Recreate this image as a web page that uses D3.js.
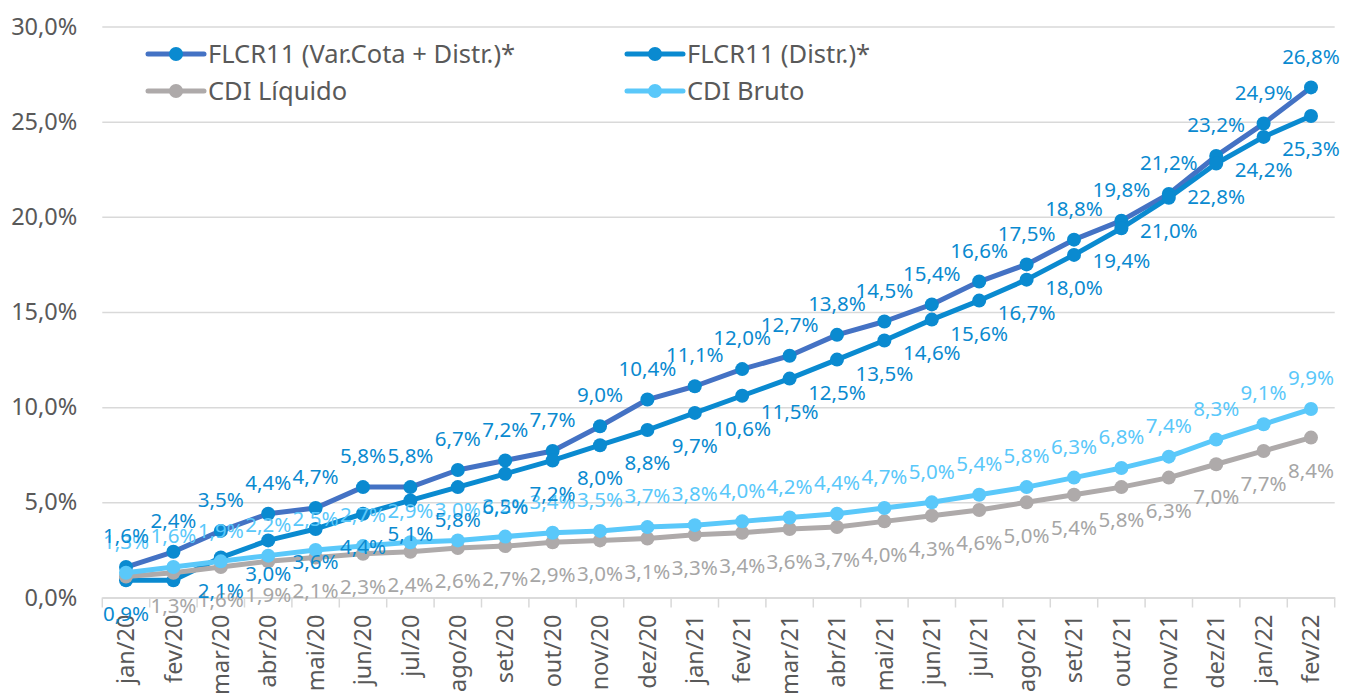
<!DOCTYPE html>
<html>
<head>
<meta charset="utf-8">
<script src="https://cdn.jsdelivr.net/npm/d3@7/dist/d3.min.js"></script>
<style>
  body { margin: 0; background: #fff; }
  svg { display: block; font-family: "Noto Sans", "Open Sans", sans-serif; }
</style>
</head>
<body>
<svg id="chart"></svg>
<script>
// categorias (eixo x)
const months = ["jan/20","fev/20","mar/20","abr/20","mai/20","jun/20","jul/20","ago/20","set/20","out/20","nov/20","dez/20",
                "jan/21","fev/21","mar/21","abr/21","mai/21","jun/21","jul/21","ago/21","set/21","out/21","nov/21","dez/21",
                "jan/22","fev/22"];
// valores acumulados em %
const flcrTotal  = [1.6,2.4,3.5,4.4,4.7,5.8,5.8,6.7,7.2,7.7,9.0,10.4,11.1,12.0,12.7,13.8,14.5,15.4,16.6,17.5,18.8,19.8,21.2,23.2,24.9,26.8];
const flcrDistr  = [0.9,0.9,2.1,3.0,3.6,4.4,5.1,5.8,6.5,7.2,8.0,8.8,9.7,10.6,11.5,12.5,13.5,14.6,15.6,16.7,18.0,19.4,21.0,22.8,24.2,25.3];
const cdiLiquido = [1.1,1.3,1.6,1.9,2.1,2.3,2.4,2.6,2.7,2.9,3.0,3.1,3.3,3.4,3.6,3.7,4.0,4.3,4.6,5.0,5.4,5.8,6.3,7.0,7.7,8.4];
const cdiBruto   = [1.3,1.6,1.9,2.2,2.5,2.7,2.9,3.0,3.2,3.4,3.5,3.7,3.8,4.0,4.2,4.4,4.7,5.0,5.4,5.8,6.3,6.8,7.4,8.3,9.1,9.9];
const seriesNames = ["FLCR11 (Var.Cota + Distr.)*", "FLCR11 (Distr.)*", "CDI Líquido", "CDI Bruto"];
const yTicks = [0, 5, 10, 15, 20, 25, 30];
// rótulos que não aparecem no original
const hiddenDistr = [1];
const hiddenLiquido = [0];

let chart = {
    width: 1345,
    height: 697,
    left: 102.3,
    right: 1334.7,
    top: 26.5,
    bottom: 597.5,
    xScale: null,
    yScale: null,
    fmt: v => d3.format(".1f")(v).replace(".", ",") + "%",
    cx: i => chart.xScale(months[i]) + chart.xScale.bandwidth() / 2,

    drawAxis: (svg) => {
        chart.xScale = d3.scaleBand()
            .domain(months)
            .range([chart.left, chart.right]);
        chart.yScale = d3.scaleLinear()
            .domain([0, 30])
            .range([chart.bottom, chart.top]);

        // grade + rótulos do eixo y
        let axis_y = d3.axisLeft(chart.yScale)
            .tickValues(yTicks)
            .tickSize(-(chart.right - chart.left))
            .tickPadding(25)
            .tickFormat(d => chart.fmt(d));
        let gy = svg.append('g')
            .attr('transform', `translate(${chart.left}, 0)`)
            .call(axis_y);
        gy.select('.domain').remove();
        gy.selectAll('line').attr('stroke', '#d9d9d9').attr('stroke-width', 1.5);
        gy.selectAll('text')
            .attr('fill', '#595959')
            .attr('font-size', '23.5px')
            .attr('font-family', '"Noto Sans", sans-serif');

        // eixo x
        let axis_x = d3.axisBottom(chart.xScale).tickSize(0);
        let gx = svg.append('g')
            .attr('transform', `translate(0, ${chart.bottom})`)
            .call(axis_x);
        gx.select('.domain').attr('stroke', '#d9d9d9').attr('stroke-width', 1.5);
        gx.selectAll('text')
            .attr('transform', 'rotate(-90)')
            .attr('x', -17)
            .attr('y', 0)
            .attr('dy', '0.35em')
            .attr('text-anchor', 'end')
            .attr('fill', '#595959')
            .attr('font-size', '23.5px')
            .attr('font-family', '"Noto Sans", sans-serif');

        // marcas entre categorias
        let edges = months.map(m => chart.xScale(m)).concat([chart.right]);
        svg.append('g')
            .selectAll('line')
            .data(edges)
            .join('line')
            .attr('x1', d => d).attr('x2', d => d)
            .attr('y1', chart.bottom).attr('y2', chart.bottom + 10)
            .attr('stroke', '#d9d9d9')
            .attr('stroke-width', 1.5);
    },

    drawSeries: (svg, values, lineColor, dotColor) => {
        let line = d3.line()
            .x((d, i) => chart.cx(i))
            .y(d => chart.yScale(d));
        let g = svg.append('g');
        g.append('path')
            .datum(values)
            .attr('d', line)
            .attr('fill', 'none')
            .attr('stroke', lineColor)
            .attr('stroke-width', 5)
            .attr('stroke-linejoin', 'round');
        g.selectAll('circle')
            .data(values)
            .join('circle')
            .attr('cx', (d, i) => chart.cx(i))
            .attr('cy', d => chart.yScale(d))
            .attr('r', 7)
            .attr('fill', dotColor);
    },

    drawLabels: (svg, values, color, offset, hidden) => {
        let pts = values.map((v, i) => ({v: v, i: i})).filter(d => !hidden.includes(d.i));
        svg.append('g')
            .selectAll('text')
            .data(pts)
            .join('text')
            .attr('x', d => chart.cx(d.i))
            .attr('y', d => chart.yScale(d.v) + offset)
            .attr('dy', '0.35em')
            .attr('text-anchor', 'middle')
            .attr('font-size', '20.5px')
            .attr('fill', color)
            .text(d => chart.fmt(d.v));
    },

    drawLegend: (svg, items) => {
        let g = svg.append('g');
        items.forEach(it => {
            let e = g.append('g').attr('transform', `translate(${it.x}, ${it.y})`);
            e.append('line')
                .attr('x1', 0).attr('x2', 56)
                .attr('stroke', it.line)
                .attr('stroke-width', 5)
                .attr('stroke-linecap', 'round');
            e.append('circle')
                .attr('cx', 28).attr('r', 7)
                .attr('fill', it.dot);
            e.append('text')
                .attr('x', 60)
                .attr('dy', '0.35em')
                .attr('font-size', '25.5px')
                .attr('fill', '#595959')
                .text(it.name);
        });
    },

    drawMain: () => {
        let svg = d3.select('#chart')
            .attr('width', chart.width)
            .attr('height', chart.height);
        chart.drawAxis(svg);

        chart.drawSeries(svg, flcrTotal, '#4472c4', '#0a8ad0');
        chart.drawSeries(svg, flcrDistr, '#0a8ad0', '#0a8ad0');
        chart.drawSeries(svg, cdiLiquido, '#aeaaaa', '#aeaaaa');
        chart.drawSeries(svg, cdiBruto, '#5ac8fa', '#5ac8fa');

        chart.drawLabels(svg, cdiLiquido, '#a6a6a6', 33, hiddenLiquido);
        chart.drawLabels(svg, cdiBruto, '#5ac8fa', -31, []);
        chart.drawLabels(svg, flcrDistr, '#0a8ad0', 33, hiddenDistr);
        chart.drawLabels(svg, flcrTotal, '#0a8ad0', -31, []);

        chart.drawLegend(svg, [
            {name: seriesNames[0], x: 148, y: 54, line: '#4472c4', dot: '#0a8ad0'},
            {name: seriesNames[1], x: 627, y: 54, line: '#0a8ad0', dot: '#0a8ad0'},
            {name: seriesNames[2], x: 148, y: 91, line: '#aeaaaa', dot: '#aeaaaa'},
            {name: seriesNames[3], x: 627, y: 91, line: '#5ac8fa', dot: '#5ac8fa'}
        ]);
    }
};

chart.drawMain();
</script>
</body>
</html>
